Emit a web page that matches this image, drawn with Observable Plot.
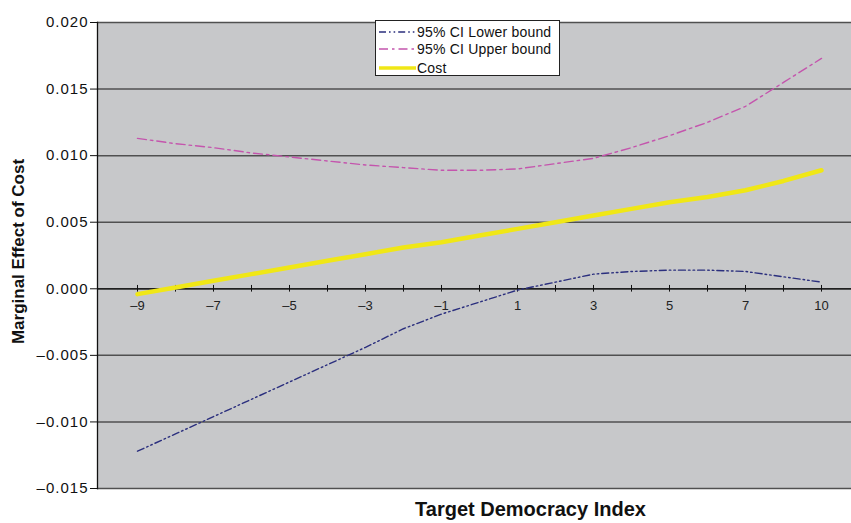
<!DOCTYPE html>
<html><head><meta charset="utf-8">
<script src="https://cdn.jsdelivr.net/npm/d3@7"></script>
<script src="https://cdn.jsdelivr.net/npm/@observablehq/plot@0.6"></script>
<style>
body{margin:0;background:#fff;}
#wrap{position:relative;width:851px;height:523px;font-family:"Liberation Sans",Arial,sans-serif;}
#wrap svg g[aria-label="y-axis tick label"] text{letter-spacing:1px;}
#legend{position:absolute;left:375px;top:20px;width:185px;height:56px;background:#fff;border:1px solid #222;box-sizing:border-box;}
#legend text{font-family:"Liberation Sans",Arial,sans-serif;font-size:14px;fill:#111;}
</style></head>
<body><div id="wrap"></div>
<script>
const categories = [-9,-8,-7,-6,-5,-4,-3,-2,-1,0,1,2,3,4,5,6,7,8,10];
const tickLabels = [-9,-7,-5,-3,-1,1,3,5,7,10];
const lowerBound = [-0.0122,-0.0109,-0.0096,-0.0083,-0.0070,-0.0057,-0.0044,-0.0030,-0.0019,-0.0010,-0.0001,0.0005,0.0011,0.0013,0.0014,0.0014,0.0013,0.0009,0.0005];
const upperBound = [0.0113,0.0109,0.0106,0.0102,0.0099,0.0096,0.0093,0.0091,0.0089,0.0089,0.0090,0.0094,0.0098,0.0106,0.0115,0.0125,0.0137,0.0155,0.0173];
const cost = [-0.0004,0.0001,0.0006,0.0011,0.0016,0.0021,0.0026,0.0031,0.0035,0.0040,0.0045,0.0050,0.0055,0.0060,0.0065,0.0069,0.0074,0.0081,0.0089];
const yTicks = [-0.015,-0.010,-0.005,0,0.005,0.010,0.015,0.020];
const seriesNames = ["95% CI Lower bound","95% CI Upper bound","Cost"];
const colors = ["#2b2f7e","#c455ad","#f0e716"];
const dashes = ["7,3,1.6,3,1.6,3","9,4,2.5,4",null];

const table = categories.map((c,i)=>({cat:c, lower:lowerBound[i], upper:upperBound[i], cost:cost[i]}));
const dash = v => (v < 0 ? "\u2013" : "") + Math.abs(v);
const fmtY = v => (v < 0 ? "\u2013" : "") + Math.abs(v).toFixed(3);

const chart = Plot.plot({
  width: 851, height: 523,
  marginTop: 22, marginBottom: 35, marginLeft: 97, marginRight: 0,
  style: {fontFamily: '"Liberation Sans", Arial, sans-serif', color: "#111", background: "transparent"},
  x: {type: "point", domain: categories, range: [135, 822], padding: 0, axis: null},
  y: {domain: [-0.015, 0.020], axis: null},
  marks: [
    Plot.frame({fill: "#c7c8ca", stroke: null}),
    Plot.ruleY(yTicks, {stroke: "#505050", strokeWidth: 1.5}),
    Plot.ruleY([0], {stroke: "#111", strokeWidth: 1.3}),
    Plot.ruleX(categories, {x: d => d, y1: -0.00025, y2: 0.00025, stroke: "#111", strokeWidth: 1}),
    Plot.text(tickLabels, {x: d => d, y: 0, dy: 17, text: dash, fontSize: 13, fill: "#222"}),
    Plot.axisY(yTicks, {tickFormat: fmtY, tickSize: 7, tickPadding: 2, fontSize: 15, label: null, stroke: "#111"}),
    Plot.frame({anchor: "left", stroke: "#111", strokeWidth: 1.3}),
    Plot.line(table, {x: "cat", y: "lower", stroke: colors[0], strokeWidth: 1.4, strokeDasharray: dashes[0]}),
    Plot.line(table, {x: "cat", y: "upper", stroke: colors[1], strokeWidth: 1.4, strokeDasharray: dashes[1]}),
    Plot.line(table, {x: "cat", y: "cost", stroke: colors[2], strokeWidth: 4.5}),
    Plot.text(["Marginal Effect of Cost"], {frameAnchor: "left", dx: -79, dy: -4, rotate: -90, textAnchor: "middle", text: d => d, fontWeight: "bold", fontSize: 17, fill: "#111"}),
    Plot.text(["Target Democracy Index"], {frameAnchor: "bottom", dx: 56, dy: 27, textAnchor: "middle", text: d => d, fontWeight: "bold", fontSize: 20, fill: "#111"})
  ]
});
const wrap = document.getElementById("wrap");
wrap.appendChild(chart);

// legend
const leg = document.createElement("div");
leg.id = "legend";
const ys = [11, 28, 47];
let svg = '<svg width="185" height="56" xmlns="http://www.w3.org/2000/svg">';
seriesNames.forEach((n, i) => {
  svg += `<line x1="3" x2="40" y1="${ys[i]}" y2="${ys[i]}" stroke="${colors[i]}" stroke-width="${i === 2 ? 3.5 : 1.6}" ${dashes[i] ? `stroke-dasharray="${dashes[i]}"` : ""}/>`;
  svg += `<text x="41" y="${ys[i]}" dy="0.36em" letter-spacing="0.2">${n}</text>`;
});
svg += '</svg>';
leg.innerHTML = svg;
wrap.appendChild(leg);
</script>
</body></html>
